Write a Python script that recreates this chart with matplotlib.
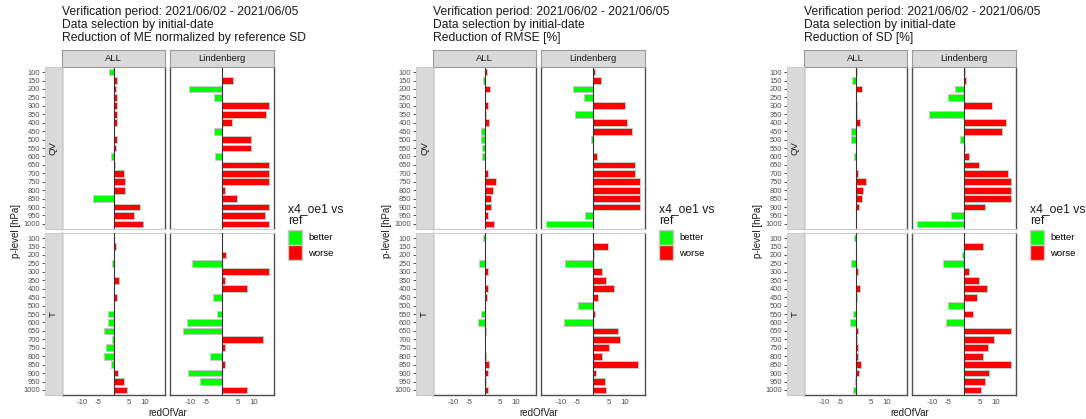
import numpy as np
import matplotlib.pyplot as plt
from matplotlib.patches import Patch

plt.rcParams['font.family'] = ['Liberation Sans', 'DejaVu Sans']

# pressure levels (hPa), top of the atmosphere first
levels = [100, 150, 200, 250, 300, 350, 400, 450, 500, 550,
          600, 650, 700, 750, 800, 850, 900, 950, 1000]
stations = ['ALL', 'Lindenberg']
variables = ['QV', 'T']
period = '2021/06/02 - 2021/06/05'
scores = ['Reduction of ME normalized by reference SD',
          'Reduction of RMSE [%]',
          'Reduction of SD [%]']

# reduction of ME normalized by reference SD (values capped at +-15)
me_all_qv = [-1.4, 1.0, 0.7, 1.2, 1.2, 1.2, 1.0, 0.1, 1.0, 0.7,
             -0.8, 0.4, 3.4, 3.7, 3.7, -6.6, 8.4, 6.5, 9.3]
me_lin_qv = [0.1, 3.5, -10.4, -2.6, 15.0, 13.9, 3.3, -2.6, 9.1, 9.3,
             -2.2, 15.0, 15.0, 15.0, 1.1, 4.9, 15.0, 13.8, 15.0]
me_all_t = [0.0, 0.7, 0.1, -0.5, 0.0, 1.8, 0.1, 1.2, 0.0, -1.9,
            -1.9, -3.0, -0.4, -2.5, -3.0, -0.7, 1.6, 3.4, 4.3]
me_lin_t = [0.1, 0.1, 1.4, -9.5, 15.0, 1.1, 7.8, -2.9, 0.0, -1.7,
            -11.1, -12.3, 12.9, 1.1, -3.7, 1.1, -10.7, -7.1, 7.8]

# reduction of RMSE [%]
rmse_all_qv = [0.7, -0.4, 1.7, 0.0, 1.2, 0.6, 1.3, -1.1, -1.1, -0.7,
               -0.7, 0.0, 1.0, 3.6, 2.6, 2.0, 2.2, 1.2, 3.0]
rmse_lin_qv = [0.5, 2.6, -6.4, -2.8, 10.3, -5.6, 10.8, 12.5, -0.6, 0.1,
               1.2, 13.4, 13.4, 15.0, 15.0, 15.0, 15.0, -2.5, -15.0]
rmse_all_t = [-0.4, 0.0, 0.0, -1.7, 1.1, 0.0, 1.0, 0.7, 0.0, -1.1,
              -2.2, 0.4, 0.0, 0.1, 0.4, 1.5, 1.0, 0.4, 1.0]
rmse_lin_t = [0.0, 4.7, 0.4, -9.0, 2.8, 4.2, 6.6, 1.6, -4.7, 0.6,
              -9.2, 8.0, 8.7, 5.0, 2.8, 14.4, 1.0, 3.7, 4.0]

# reduction of SD [%]
sd_all_qv = [0.6, -1.1, 2.1, 0.0, 0.6, 0.6, 1.3, -1.3, -1.3, 0.0,
             -0.5, 0.0, 0.9, 3.5, 2.4, 2.0, 1.2, 0.0, 0.0]
sd_lin_qv = [0.4, 0.6, -2.7, -5.2, 8.9, -11.1, 13.4, 12.0, -1.4, 0.4,
             1.7, 4.8, 13.9, 15.0, 15.0, 15.0, 6.6, -4.2, -15.0]
sd_all_t = [-0.5, 0.0, 0.0, -1.6, 0.7, 0.0, 1.5, 0.4, 0.0, -0.7,
            -1.9, 0.7, 0.4, 0.9, 0.9, 1.8, 1.1, -0.1, -0.7]
sd_lin_t = [0.0, 5.9, -0.5, -6.6, 1.5, 4.8, 7.3, 4.0, -5.2, 2.9,
            -5.8, 15.0, 9.5, 7.5, 5.9, 15.0, 7.8, 6.7, 5.3]

blocks = [
    {'QV': [me_all_qv, me_lin_qv], 'T': [me_all_t, me_lin_t]},
    {'QV': [rmse_all_qv, rmse_lin_qv], 'T': [rmse_all_t, rmse_lin_t]},
    {'QV': [sd_all_qv, sd_lin_qv], 'T': [sd_all_t, sd_lin_t]},
]

W, H = 1086, 419
BETTER, WORSE = '#00FF00', '#FF0000'
STRIP = '#D9D9D9'
DARK = '#4D4D4D'


def box(x0, y0, x1, y1):
    # pixel box (top-left origin) -> figure rect
    return [x0 / W, 1 - y1 / H, (x1 - x0) / W, (y1 - y0) / H]


fig = plt.figure(figsize=(W / 100, H / 100), dpi=100)

col_x = [(62, 165), (170, 274)]
row_y = [(67, 229), (233, 395)]
ypos = np.arange(len(levels))

for b, data in enumerate(blocks):
    off = 371 * b

    fig.text((62 + off) / W, 1 - 6 / H,
             'Verification period: ' + period + '\nData selection by initial-date\n' + scores[b],
             ha='left', va='top', fontsize=8.7, color='#1A1A1A', linespacing=1.1)

    for i, var in enumerate(variables):
        y0, y1 = row_y[i]
        for j, stn in enumerate(stations):
            x0, x1 = col_x[j]
            vals = np.array(data[var][j])
            ax = fig.add_axes(box(x0 + off, y0, x1 + off, y1))
            colors = [BETTER if v < 0 else WORSE for v in vals]
            ax.barh(ypos, vals, height=0.8, color=colors,
                    edgecolor='#C8C8C8', linewidth=0.7, zorder=2)
            ax.axvline(0, color='#333333', linewidth=0.8, zorder=3)
            ax.set_xlim(-16.5, 16.5)
            ax.set_ylim(len(levels) - 0.4, -0.6)
            ax.set_yticks([])
            for side in ['top', 'bottom']:
                ax.spines[side].set_color('#CCCCCC')
                ax.spines[side].set_linewidth(0.8)
            for side in ['left', 'right']:
                ax.spines[side].set_color(DARK)
                ax.spines[side].set_linewidth(1.0)
            if i == len(variables) - 1:
                ax.spines['bottom'].set_color(DARK)
                ax.spines['bottom'].set_linewidth(1.0)
                ax.set_xticks([-10, -5, 5, 10])
                ax.set_xticklabels(['-10', '-5', '5', '10'])
                ax.tick_params(axis='x', length=0, pad=3, labelsize=5.6,
                               labelcolor=DARK)
            else:
                ax.set_xticks([])

            if i == 0:
                sx = fig.add_axes(box(x0 + off, 50, x1 + off, 67))
                sx.set_facecolor(STRIP)
                sx.set_xticks([])
                sx.set_yticks([])
                for sp in sx.spines.values():
                    sp.set_color('#9A9A9A')
                    sp.set_linewidth(0.8)
                sx.text(0.5, 0.5, stn, ha='center', va='center',
                        fontsize=6.8, color='#1A1A1A', transform=sx.transAxes)

        # row strip carries the level axis
        sy = fig.add_axes(box(45 + off, y0, 62 + off, y1))
        sy.set_facecolor(STRIP)
        sy.set_xticks([])
        sy.set_ylim(len(levels) - 0.4, -0.6)
        sy.set_yticks(ypos)
        sy.set_yticklabels([str(l) for l in levels])
        sy.tick_params(axis='y', length=2.5, width=0.6, color='#333333',
                       pad=1, labelsize=5.4, labelcolor=DARK)
        for side, sp in sy.spines.items():
            sp.set_color('#CCCCCC')
            sp.set_linewidth(0.8)
        sy.text(0.5, 0.5, var, ha='center', va='center', rotation=90,
                fontsize=6.8, color='#1A1A1A', transform=sy.transAxes)

    fig.text((168 + off) / W, 1 - 413 / H, 'redOfVar', ha='center', va='center',
             fontsize=7, color='#1A1A1A')
    fig.text((16 + off) / W, 1 - 231 / H, 'p-level [hPa]', ha='center', va='center',
             rotation=90, fontsize=7, color='#1A1A1A')

    # legend: title as plain text, keys below it
    fig.text((288 + off) / W, 1 - 203 / H, 'x4_oe1 vs\nref', ha='left', va='top',
             fontsize=8.7, color='#1A1A1A', linespacing=0.95)
    handles = [Patch(facecolor=BETTER, edgecolor='#C8C8C8', label='better'),
               Patch(facecolor=WORSE, edgecolor='#C8C8C8', label='worse')]
    fig.legend(handles=handles, loc='upper left',
               bbox_to_anchor=((281 + off) / W, 1 - 223 / H),
               frameon=False, fontsize=6.8,
               handlelength=1.55, handleheight=2.1, handletextpad=0.6,
               labelspacing=0.05, borderpad=0.2)

fig.savefig('out.png', dpi=100)
